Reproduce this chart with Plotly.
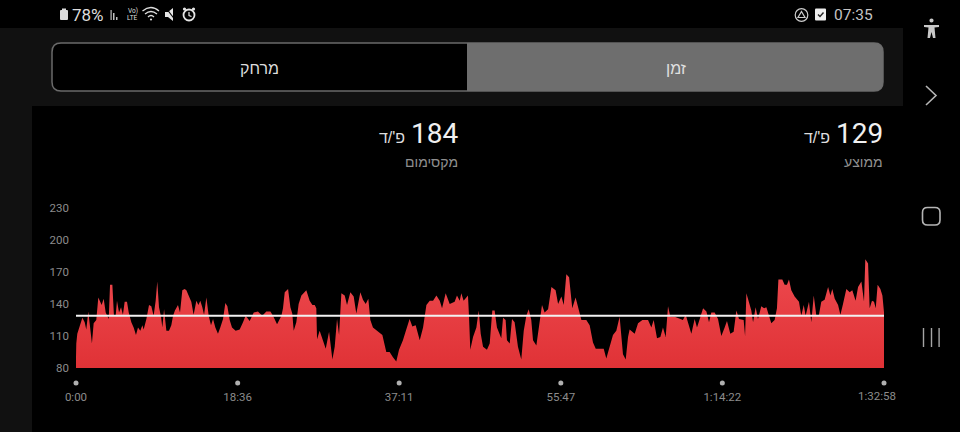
import plotly.graph_objects as go

# heart rate over the workout
seconds = [0, 2, 9, 25, 44, 60, 71, 85, 94, 110, 122, 140, 154, 168, 177, 191, 205, 226, 235, 251,
           262, 274, 283, 297, 311, 324, 336, 352, 364, 382, 398, 414, 428, 444, 458, 467, 486, 504, 520, 536,
           550, 561, 573, 587, 596, 608, 624, 642, 658, 670, 683, 704, 718, 734, 750, 762, 780, 796, 812, 831,
           845, 858, 872, 884, 900, 916, 932, 946, 962, 980, 996, 1015, 1031, 1045, 1061, 1077, 1102, 1130, 1153, 1171,
           1199, 1227, 1256, 1286, 1314, 1342, 1360, 1388, 1418, 1429, 1441, 1464, 1480, 1493, 1503, 1521, 1537, 1556, 1590, 1613,
           1632, 1648, 1659, 1664, 1682, 1705, 1724, 1747, 1770, 1786, 1802, 1816, 1832, 1855, 1871, 1894, 1917, 1935, 1963, 1981,
           2000, 2018, 2032, 2050, 2085, 2115, 2142, 2165, 2188, 2211, 2230, 2257, 2280, 2303, 2322, 2345, 2373, 2396, 2419, 2442,
           2465, 2488, 2511, 2527, 2552, 2580, 2614, 2630, 2649, 2660, 2676, 2706, 2713, 2722, 2741, 2764, 2780, 2794, 2810, 2837,
           2856, 2874, 2890, 2906, 2936, 2948, 2966, 2975, 2994, 3010, 3028, 3051, 3074, 3091, 3109, 3125, 3143, 3155, 3178, 3196,
           3217, 3235, 3259, 3282, 3311, 3328, 3351, 3367, 3385, 3404, 3426, 3449, 3473, 3489, 3523, 3546, 3569, 3588, 3615, 3643,
           3661, 3684, 3707, 3730, 3753, 3776, 3795, 3811, 3822, 3857, 3880, 3910, 3949, 3972, 3988, 4011, 4034, 4052, 4071, 4087,
           4103, 4133, 4190, 4209, 4225, 4248, 4271, 4287, 4306, 4329, 4352, 4370, 4386, 4409, 4432, 4455, 4478, 4494, 4517, 4540,
           4559, 4577, 4609, 4619, 4628, 4646, 4662, 4674, 4692, 4708, 4731, 4750, 4766, 4784, 4800, 4823, 4839, 4849, 4876, 4892,
           4908, 4922, 4938, 4961, 4991, 5007, 5024, 5037, 5060, 5076, 5093, 5111, 5129, 5145, 5168, 5192, 5208, 5221, 5238, 5261,
           5277, 5295, 5318, 5341, 5359, 5382, 5399, 5422, 5440, 5449, 5468, 5479, 5495, 5509, 5521, 5534, 5553, 5567, 5578]
bpm = [90, 103, 112, 118, 127, 123, 116, 133, 122, 103, 122, 125, 146, 142, 139, 145, 132, 126, 158, 158,
       129, 129, 143, 132, 137, 130, 142, 142, 132, 123, 118, 111, 118, 115, 120, 116, 126, 139, 138, 129,
       143, 161, 137, 128, 118, 135, 115, 115, 120, 129, 134, 139, 132, 153, 154, 153, 148, 142, 130, 143,
       139, 143, 137, 130, 146, 129, 120, 126, 118, 112, 118, 126, 141, 138, 125, 118, 115, 116, 123, 129,
       124, 132, 133, 129, 133, 133, 129, 121, 129, 136, 151, 154, 137, 131, 115, 123, 140, 148, 153, 143,
       139, 139, 136, 107, 115, 106, 98, 114, 88, 100, 126, 111, 150, 148, 139, 151, 147, 131, 151, 144,
       140, 145, 125, 118, 114, 111, 95, 95, 90, 86, 97, 106, 116, 126, 119, 120, 106, 118, 139, 143,
       143, 148, 143, 136, 150, 140, 142, 148, 143, 150, 143, 148, 129, 97, 109, 118, 134, 112, 100, 97,
       103, 134, 134, 118, 108, 127, 125, 106, 103, 126, 123, 100, 88, 115, 129, 135, 125, 106, 101, 117,
       139, 132, 135, 156, 153, 140, 147, 139, 168, 165, 136, 146, 132, 125, 125, 120, 104, 98, 98, 98,
       89, 100, 111, 115, 128, 93, 88, 109, 116, 112, 122, 125, 125, 118, 125, 108, 109, 118, 109, 138,
       128, 128, 125, 130, 122, 112, 126, 118, 126, 136, 133, 123, 132, 132, 126, 110, 118, 124, 112, 114,
       134, 126, 125, 110, 150, 140, 134, 123, 137, 126, 138, 136, 137, 129, 122, 125, 136, 163, 163, 158,
       158, 163, 153, 147, 142, 129, 139, 129, 142, 123, 148, 129, 130, 142, 144, 156, 148, 154, 145, 139,
       130, 140, 154, 151, 153, 143, 156, 161, 142, 182, 178, 136, 143, 142, 136, 158, 154, 148, 132]
average_bpm = 129
max_bpm = 184
total_seconds = 5578

y_ticks = [80, 110, 140, 170, 200, 230]
x_tick_seconds = [0, 1116, 2231, 3347, 4462, 5578]
x_tick_labels = ["0:00", "18:36", "37:11", "55:47", "1:14:22", ""]
end_label = "1:32:58"

W, H = 960, 432
HEB = "Liberation Sans, Noto Sans, sans-serif"
NUM = "Roboto, sans-serif"


def fx(px):
    return px / W


def fy(py):
    return 1 - py / H


def pt(px, py):
    return f"{fx(px):.5f},{fy(py):.5f}"


def rounded(x0, y0, x1, y1, r):
    return (f"M{pt(x0 + r, y0)} L{pt(x1 - r, y0)} Q{pt(x1, y0)} {pt(x1, y0 + r)} "
            f"L{pt(x1, y1 - r)} Q{pt(x1, y1)} {pt(x1 - r, y1)} L{pt(x0 + r, y1)} "
            f"Q{pt(x0, y1)} {pt(x0, y1 - r)} L{pt(x0, y0 + r)} Q{pt(x0, y0)} {pt(x0 + r, y0)} Z")


def poly(points, closed=False):
    d = "M" + " L".join(pt(a, b) for a, b in points)
    return d + " Z" if closed else d


def path(d, fill="rgba(0,0,0,0)", line="rgba(0,0,0,0)", width=0):
    return dict(type="path", path=d, xref="paper", yref="paper", fillcolor=fill,
                line=dict(color=line, width=width), layer="below")


def rect(x0, y0, x1, y1, fill):
    return dict(type="rect", xref="paper", yref="paper", x0=fx(x0), x1=fx(x1), y0=fy(y1), y1=fy(y0),
                fillcolor=fill, line=dict(width=0), layer="below")


def circle(cx, cy, r, fill="rgba(0,0,0,0)", line="rgba(0,0,0,0)", width=0):
    return dict(type="circle", xref="paper", yref="paper", x0=fx(cx - r), x1=fx(cx + r), y0=fy(cy + r), y1=fy(cy - r),
                fillcolor=fill, line=dict(color=line, width=width), layer="below")


def label(px, py, text, size, color, anchor="center", family=HEB):
    return dict(x=fx(px), y=fy(py), xref="paper", yref="paper", text=text, showarrow=False,
                xanchor=anchor, yanchor="middle", font=dict(size=size, color=color, family=family))


shapes = [
    # app background
    rect(0, 28, 903, 106, "#111111"),
    rect(0, 106, 32, 432, "#111111"),
    # distance / time toggle
    path(rounded(52, 43, 883, 91, 9), fill="#000000", line="#6a6a6a", width=1.5),
    path(rounded(467, 43, 883, 91, 9), fill="#6e6e6e"),
    rect(467, 43, 480, 91, "#6e6e6e"),
    # battery
    path(rounded(60, 10, 68, 20, 1), fill="#dddddd"),
    rect(62, 8.5, 66, 10.5, "#dddddd"),
    # signal
    rect(110.5, 10, 111.7, 20, "#c0c0c0"),
    rect(113, 13, 114.5, 20, "#c0c0c0"),
    rect(116, 17, 117.5, 20, "#c0c0c0"),
    # wifi
    path(f"M{pt(142.5, 11)} Q{pt(151, 4)} {pt(159, 11)}", line="#dddddd", width=1.3),
    path(f"M{pt(145, 14)} Q{pt(151, 9)} {pt(157, 14)}", line="#dddddd", width=1.3),
    path(f"M{pt(148, 17)} Q{pt(151, 14)} {pt(154, 17)}", line="#dddddd", width=1.3),
    circle(151, 19.5, 1.1, fill="#dddddd"),
    # muted speaker
    path(poly([(165, 12), (168, 12), (173, 8), (173, 21), (168, 17), (165, 17)], True), fill="#e5e5e5"),
    path(poly([(166, 8), (176, 21)]), line="#000000", width=1.2),
    # alarm
    circle(189, 15, 5.5, line="#e5e5e5", width=1.8),
    circle(184.5, 9, 1.6, fill="#e5e5e5"),
    circle(193.5, 9, 1.6, fill="#e5e5e5"),
    path(poly([(189, 12), (189, 15.5), (191.5, 16.5)]), line="#e5e5e5", width=1.2),
    # drive icon
    circle(801.5, 15, 6.3, line="#cccccc", width=1.2),
    path(poly([(801.5, 11.5), (805, 17.5), (798, 17.5)], True), line="#cccccc", width=1.2),
    # check box
    path(rounded(815, 8.5, 826, 20.5, 1), fill="#eeeeee"),
    path(poly([(818, 14.5), (820, 16.5), (823.5, 12.5)]), line="#222222", width=1.4),
    # side navigation
    circle(931.5, 20.5, 2.1, fill="#c8c8c8"),
    path(poly([(924, 25), (939, 25), (939, 27), (934.5, 27.5), (935.5, 38), (933, 38), (931.5, 32),
               (930, 38), (927.5, 38), (928.5, 27.5), (924, 27)], True), fill="#c8c8c8"),
    path(poly([(926, 86), (936, 95.5), (926, 105)]), line="#b5b5b5", width=1.6),
    path(rounded(922.5, 207.5, 940, 225, 5), line="#b5b5b5", width=1.6),
    rect(922.8, 328, 924.2, 347, "#a5a5a5"),
    rect(930.8, 328, 932.2, 347, "#a5a5a5"),
    rect(938.4, 328, 939.8, 347, "#a5a5a5"),
]

annotations = [
    label(70, 15, "78%", 17, "#dddddd", "left", NUM),
    label(132.5, 11, "Vo)", 6.5, "#dddddd", family=NUM),
    label(132.5, 18, "LTE", 6.5, "#dddddd", family=NUM),
    label(875, 15, "07:35", 15.5, "#c4c4c4", "right", NUM),
    label(259.5, 68, "מרחק", 16, "#dcdcdc"),
    label(675.5, 68, "זמן", 16, "#e0e0e0"),
    label(885, 134, str(average_bpm), 28, "#f0f0f0", "right", NUM),
    label(832, 137, "פ'/ד", 16, "#dddddd", "right"),
    label(885, 162, "ממוצע", 14, "#8f8f8f", "right"),
    label(460, 134, str(max_bpm), 28, "#f0f0f0", "right", NUM),
    label(407, 137, "פ'/ד", 16, "#dddddd", "right"),
    label(460, 162, "מקסימום", 14, "#8f8f8f", "right"),
    # last time label sits inside the end of the axis
    dict(x=total_seconds, xref="x", y=fy(396), yref="paper", text=end_label, showarrow=False,
         xanchor="right", yanchor="middle", xshift=14,
         font=dict(size=11.5, color="#8c8c8c", family=NUM)),
]

fig = go.Figure()
fig.add_trace(go.Scatter(x=seconds, y=bpm, mode="lines", fill="tozeroy", line=dict(width=0, color="#ee4a50"),
                         fillgradient=dict(type="vertical", start=184, stop=80,
                                           colorscale=[[0, "#ee4b50"], [1, "#e03236"]]),
                         hoverinfo="skip"))
fig.add_trace(go.Scatter(x=[0, total_seconds], y=[average_bpm, average_bpm], mode="lines",
                         line=dict(width=2, color="#f2f2f2"), hoverinfo="skip"))
# dots above the time labels, on their own thin axis
fig.add_trace(go.Scatter(x=x_tick_seconds, y=[0] * len(x_tick_seconds), mode="markers", yaxis="y2",
                         marker=dict(size=5, color="#b0b0b0"), cliponaxis=False, hoverinfo="skip"))

fig.update_layout(
    width=W, height=H, margin=dict(l=0, r=0, t=0, b=0, autoexpand=False), showlegend=False,
    paper_bgcolor="#000000", plot_bgcolor="rgba(0,0,0,0)",
    shapes=shapes, annotations=annotations,
    font=dict(family=NUM, color="#8c8c8c", size=11.5),
    yaxis2=dict(domain=[fy(386), fy(380)], range=[-1, 1], visible=False, anchor="x"),
)
fig.update_xaxes(domain=[fx(76), fx(884)], range=[0, total_seconds], showgrid=False, zeroline=False, showline=False,
                 tickmode="array", tickvals=x_tick_seconds, ticktext=x_tick_labels, ticks="",
                 ticklabelstandoff=20, tickangle=0)
fig.update_yaxes(domain=[fy(368), fy(208)], range=[80, 230], showgrid=False, zeroline=False, showline=False,
                 tickmode="array", tickvals=y_ticks, ticks="", ticklabelstandoff=6, selector=dict(anchor="x"))
fig.update_layout(yaxis=dict(domain=[fy(368), fy(208)], range=[80, 230], showgrid=False, zeroline=False,
                             showline=False, tickmode="array", tickvals=y_ticks, ticks="", ticklabelstandoff=6),
                  yaxis2=dict(domain=[fy(386), fy(380)], range=[-1, 1], visible=False, anchor="x"))

# the page's default margin would shift everything by 8px
fig.write_html("out.html", config=dict(displayModeBar=False),
               post_script="document.body.style.margin='0';document.body.style.background='#000';"
                           "document.documentElement.style.overflow='hidden';")
